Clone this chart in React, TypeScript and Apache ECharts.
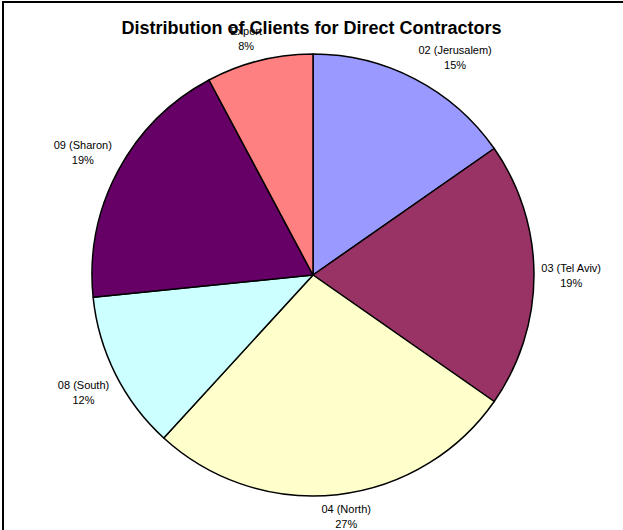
import React, { useEffect, useRef } from "react";
import * as echarts from "echarts";

const categories = ["02 (Jerusalem)", "03 (Tel Aviv)", "04 (North)", "08 (South)", "09 (Sharon)", "Export"];
const shares = [15.3, 19.4, 27.1, 11.6, 18.8, 7.8];
const sliceColors = ["#9999FF", "#993366", "#FFFFCC", "#CCFFFF", "#660066", "#FF8080"];
const titleText = "Distribution of Clients for Direct Contractors";

const CX = 313;
const CY = 275;
const R = 221;
const GAP = 7;

export default function App() {
  const ref = useRef<HTMLDivElement>(null);
  useEffect(() => {
    if (!ref.current) return;
    const chart = echarts.init(ref.current, null, { renderer: "svg" });
    const total = shares.reduce((a, b) => a + b, 0);
    const starts: number[] = [];
    let run = 0;
    shares.forEach((v) => {
      starts.push(run);
      run += v;
    });
    const data = categories.map((name, i) => ({
      name,
      value: shares[i],
      itemStyle: { color: sliceColors[i] },
    }));
    const clamp = (v: number) => Math.max(-1, Math.min(1, v * 3));
    chart.setOption({
      animation: false,
      backgroundColor: "#ffffff",
      title: {
        text: titleText,
        left: "center",
        top: 14,
        textStyle: { fontFamily: "Arial, Liberation Sans", fontSize: 18, fontWeight: "bold", color: "#000" },
      },
      graphic: [
        {
          type: "rect",
          shape: { x: 3, y: 2, width: 700, height: 600 },
          style: { fill: "none", stroke: "#000", lineWidth: 2 },
          silent: true,
        },
      ],
      series: [
        {
          type: "pie",
          center: [CX, CY],
          radius: R,
          startAngle: 90,
          clockwise: true,
          avoidLabelOverlap: false,
          data,
          silent: true,
          itemStyle: { borderColor: "#000", borderWidth: 1.5 },
          label: {
            show: true,
            position: "outside",
            formatter: (p: any) => `${p.name}\n${Math.round((p.value / total) * 100)}%`,
            fontFamily: "Arial, Liberation Sans",
            fontSize: 11,
            lineHeight: 15,
            color: "#000",
          },
          labelLine: { show: false },
          labelLayout: (params: any) => {
            const i = params.dataIndex;
            const mid = ((starts[i] + shares[i] / 2) / total) * Math.PI * 2;
            const sx = Math.sin(mid);
            const sy = -Math.cos(mid);
            const ax = CX + (R + GAP) * sx;
            const ay = CY + (R + GAP) * sy;
            const w = params.labelRect.width;
            const h = params.labelRect.height;
            return {
              x: ax + (clamp(sx) * w) / 2,
              y: ay + (clamp(sy) * h) / 2,
              align: "center",
              verticalAlign: "middle",
            };
          },
        },
      ],
    });
    return () => chart.dispose();
  }, []);
  return <div ref={ref} style={{ position: "fixed", left: 0, top: 0, width: 623, height: 530 }} />;
}
